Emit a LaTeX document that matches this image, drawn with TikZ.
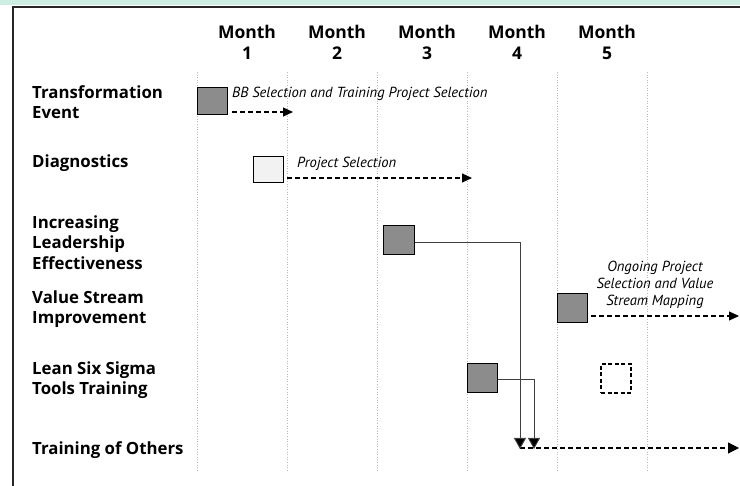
\documentclass[tikz,border=0pt]{standalone}
\usepackage{fontspec}
\setmainfont{Open Sans}
\newfontfamily\notefont{PT Sans}
\usetikzlibrary{arrows.meta,calc}
\definecolor{mint}{HTML}{CDEFE3}
\definecolor{boxdark}{HTML}{8C8C8C}
\definecolor{boxlight}{HTML}{F2F2F2}
\tikzset{
  rowlabel/.style={anchor=west,align=left,inner sep=0pt,font=\fontsize{16.8}{20.5}\selectfont\bfseries},
  monthlabel/.style={align=center,inner sep=0pt,font=\fontsize{17.5}{21}\selectfont\bfseries},
  note/.style={inner sep=0pt,font=\notefont\fontsize{14.6}{16.5}\selectfont\itshape},
  grid/.style={draw=gray!55,line width=0.6pt,dotted},
  stepbox/.style={draw=black,line width=1pt,fill=boxdark,minimum width=30pt,minimum height=28pt,inner sep=0pt},
  lightbox/.style={stepbox,fill=boxlight},
  dashbox/.style={draw=black,line width=1.2pt,dash pattern=on 4pt off 2.5pt,fill=white,minimum width=30pt,minimum height=29pt,inner sep=0pt},
  darrow/.style={line width=1.2pt,dash pattern=on 5pt off 3pt,-{Triangle[length=10pt,width=9pt]}},
  sline/.style={draw=black!75,line width=0.9pt},
  downarrow/.style={sline,-{Triangle[length=11pt,width=12pt,fill=black]}},
}
\begin{document}
\begin{tikzpicture}[x=1pt,y=-1pt]
\useasboundingbox (0,0) rectangle (740,486);
% top strip and frame
\fill[mint] (0,0) rectangle (740,5);
\draw[line width=1.6pt,black!85] (13,486) -- (13,7) -- (740,7);
% grid lines
\foreach \gx in {197,287,377,467,557,647} \draw[grid] (\gx,72) -- (\gx,470);
% months
\foreach \k in {1,...,5} \node[monthlabel] (m\k) at ({157+90*\k},42.5) {Month\\\k};
% row labels
\node[rowlabel] (l1) at (32,102) {Transformation\\Event};
\node[rowlabel] (l2) at (32,163) {Diagnostics};
\node[rowlabel] (l3) at (32,242.5) {Increasing\\Leadership\\Effectiveness};
\node[rowlabel] (l4) at (32,309) {Value Stream\\Improvement};
\node[rowlabel] (l5) at (32,380) {Lean Six Sigma\\Tools Training};
\node[rowlabel] (l6) at (32,450) {Training of Others};
% boxes
\node[stepbox,minimum height=27pt] (b1) at (212,101.5) {};
\node[lightbox,minimum height=26pt] (b2) at (268,170) {};
\node[stepbox,minimum width=31pt,minimum height=29pt] (b3) at (398.5,240.5) {};
\node[stepbox,minimum height=29pt] (b4) at (572,308.5) {};
\node[stepbox,minimum height=29pt] (b5) at (482,378.5) {};
\node[dashbox] (b6) at (616,378.5) {};
% notes
\node[note,anchor=west] (t1) at (232,94) {BB Selection and Training Project Selection};
\node[note,anchor=west] (t2) at (297,164) {Project Selection};
\node[note,align=center,font=\notefont\fontsize{14.6}{17}\selectfont\itshape] (t3) at (655,285) {Ongoing Project\\Selection and Value\\Stream Mapping};
% coordinates
\coordinate (a1s) at (232,112);
\coordinate (a1e) at (293,112);
\coordinate (a2s) at (287,178);
\coordinate (a2e) at (472,178);
\coordinate (a4s) at (591,316);
\coordinate (a4e) at (739,316);
\coordinate (c3) at (520,242);
\coordinate (d3) at (520,449);
\coordinate (c5) at (534,379);
\coordinate (d5) at (534,449);
\coordinate (a6s) at (520,448);
\coordinate (a6e) at (739,448);
% connectors
\draw[darrow] (a1s) -- (a1e);
\draw[darrow] (a2s) -- (a2e);
\draw[darrow] (a4s) -- (a4e);
\draw[darrow,-{Triangle[length=11pt,width=11pt]}] (a6s) -- (a6e);
\draw[downarrow] (b3.east |- c3) -- (c3) -- (d3);
\draw[downarrow] (b5.east |- c5) -- (c5) -- (d5);
\end{tikzpicture}
\end{document}
